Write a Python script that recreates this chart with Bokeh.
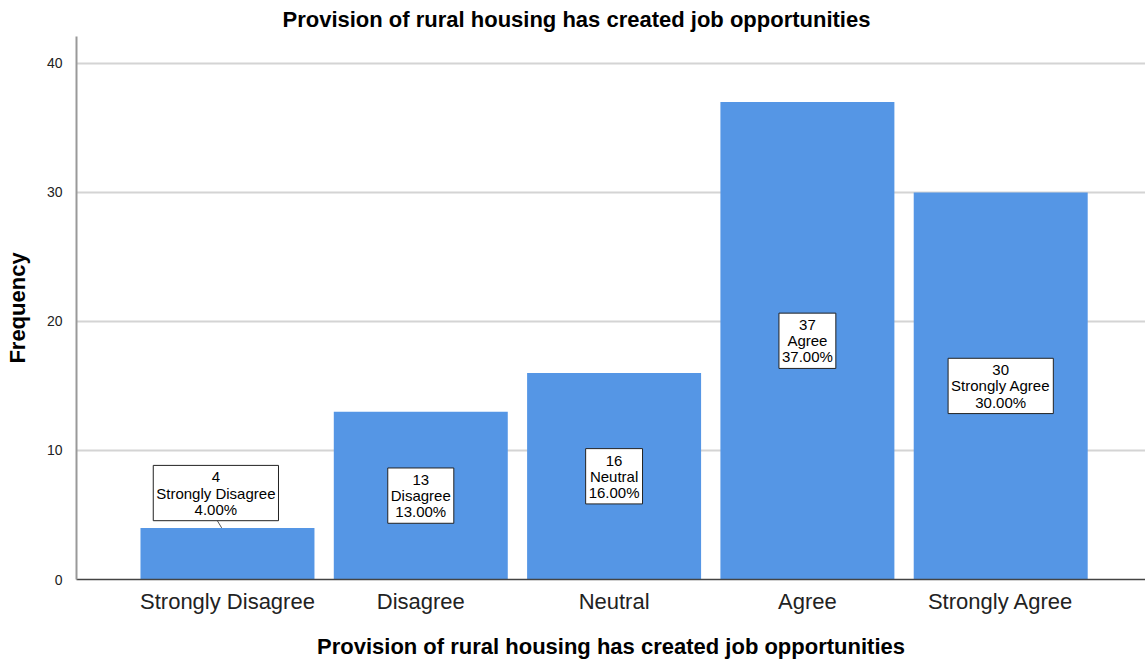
from bokeh.plotting import figure
from bokeh.models import Range1d, FixedTicker, Title
from bokeh.core.properties import value
from bokeh.embed import file_html
from bokeh.resources import INLINE

categories = ["Strongly Disagree", "Disagree", "Neutral", "Agree", "Strongly Agree"]
counts = [4, 13, 16, 37, 30]
percents = [4.00, 13.00, 16.00, 37.00, 30.00]
y_ticks = [0, 10, 20, 30, 40]

FONT = "Liberation Sans"
BAR = "#5596e5"

xs = list(range(len(categories)))
p = figure(width=1145, height=661, output_backend="svg", toolbar_location=None,
           x_range=Range1d(-0.781, 4.749), y_range=Range1d(0, 42.08),
           min_border_left=76, min_border_right=0, min_border_top=35, min_border_bottom=81)
p.title = None
p.add_layout(Title(text="Provision of rural housing has created job opportunities",
                   text_font=FONT, text_font_size="22px", text_font_style="bold",
                   text_color="#000000", align="left", offset=206, standoff=9), "above")
p.outline_line_color = None

p.vbar(x=xs, top=counts, width=0.9, fill_color=BAR, line_color=None)

# labels: inside the bar at mid-height, or above a short bar with a leader line
above = [c < 8 for c in counts]
label_y = [c + 2.7 if a else c / 2 for c, a in zip(counts, above)]
label_x = [x - 0.06 if a else x for x, a in zip(xs, above)]
texts = [f"{c}\n{cat}\n{pc:.2f}%" for c, cat, pc in zip(counts, categories, percents)]
for x, c, a in zip(xs, counts, above):
    if a:
        p.segment(x0=[x - 0.055], y0=[c + 0.62], x1=[x - 0.03], y1=[c], line_color="#555555", line_width=1)
p.text(x=label_x, y=label_y, text=texts, text_align="center", text_baseline="middle",
       text_font=value(FONT), text_font_size="15px", text_color="#000000", text_line_height=0.95,
       background_fill_color="white", border_line_color="#222222", border_line_width=1,
       padding=3)

p.xaxis.ticker = FixedTicker(ticks=xs)
p.xaxis.major_label_overrides = {i: c for i, c in enumerate(categories)}
p.xaxis.axis_label = "Provision of rural housing has created job opportunities"
p.yaxis.axis_label = "Frequency"
p.yaxis.ticker = FixedTicker(ticks=y_ticks)

for ax in (p.xaxis[0], p.yaxis[0]):
    ax.major_tick_line_color = None
    ax.minor_tick_line_color = None
    ax.axis_label_text_font = FONT
    ax.axis_label_text_font_size = "22px"
    ax.axis_label_text_font_style = "bold"
    ax.axis_label_text_color = "#000000"
    ax.major_label_text_font = FONT
    ax.major_label_text_color = "#222222"

p.xaxis.axis_line_color = "#444444"
p.xaxis.axis_line_width = 1.5
p.yaxis.axis_line_color = "#999999"
p.yaxis.axis_line_width = 2
p.xaxis.major_label_text_font_size = "22px"
p.yaxis.major_label_text_font_size = "14px"
p.xaxis.major_label_standoff = 3
p.xaxis.axis_label_standoff = 17
p.yaxis.major_label_standoff = 8
p.yaxis.axis_label_standoff = 14

p.xgrid.grid_line_color = None
p.ygrid.grid_line_color = "#d4d4d4"
p.ygrid.grid_line_width = 2
p.background_fill_color = "white"

open("out.html", "w").write(file_html(p, INLINE))
